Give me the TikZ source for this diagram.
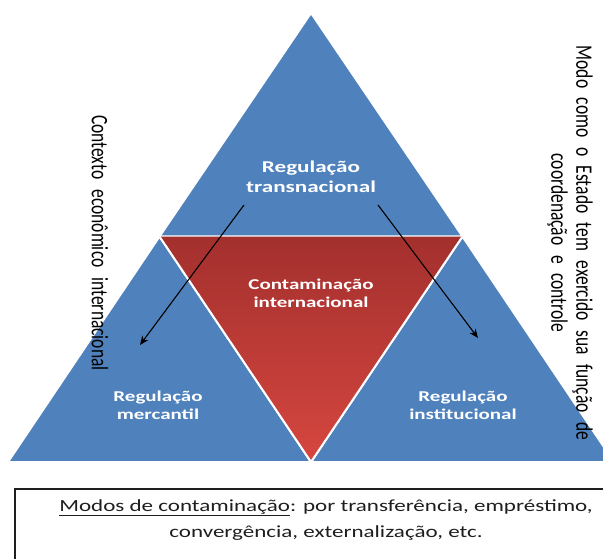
\documentclass[tikz,border=0pt]{standalone}
\usepackage{graphicx}
\usepackage{fontspec}
\setmainfont{Carlito}
\usetikzlibrary{arrows.meta}

\definecolor{pyrblue}{HTML}{4F81BD}
\definecolor{redtop}{HTML}{A3302E}
\definecolor{redbot}{HTML}{D6463F}
\definecolor{inkgray}{HTML}{1E1E1E}

% horizontally widened text and vertically widened (for rotated labels)
\newcommand{\wide}[1]{\scalebox{1.4}[1]{#1}}
\newcommand{\notewide}[1]{\scalebox{1.355}[1]{#1}}
\newcommand{\tall}[1]{\scalebox{1}[1.35]{#1}}
% wide word gap used in the side captions
\newcommand{\gap}{\hspace{9.5pt}}

\tikzset{
  tri/.style={fill=pyrblue, draw=white, line width=2pt, line join=miter},
  whitelabel/.style={text=white, align=center, inner sep=0pt,
    font=\bfseries\fontsize{15}{18}\selectfont},
  sidelabel/.style={text=black, align=center, inner sep=0pt, rotate=-90,
    font=\fontsize{17.5}{24}\selectfont},
  flowarrow/.style={draw=black, line width=1.1pt, -{Stealth[length=9pt,width=7.5pt]}},
  notebox/.style={draw=inkgray, line width=1.4pt},
}

\begin{document}
\begin{tikzpicture}[x=1pt, y=-1pt]
  \useasboundingbox (0,0) rectangle (603,559);
  \clip (0,0) rectangle (603,559);

  % corner points of the pyramid
  \coordinate (apex) at (311,13);
  \coordinate (bl) at (8,462);
  \coordinate (br) at (614,462);
  \coordinate (ml) at (159.5,236.5);
  \coordinate (mr) at (462.5,236.5);
  \coordinate (mb) at (311,462);

  % three blue triangles
  \path[tri] (apex) -- (ml) -- (mr) -- cycle;
  \path[tri] (ml) -- (bl) -- (mb) -- cycle;
  \path[tri] (mr) -- (mb) -- (br) -- cycle;

  % inverted red triangle in the middle
  \shade[top color=redtop, bottom color=redbot] (ml) -- (mr) -- (mb) -- cycle;
  \draw[white, line width=2pt, line join=miter] (ml) -- (mb) -- (mr);
  \draw[white, opacity=0.45, line width=1pt] (ml) -- (mr);

  % labels inside the triangles
  \node[whitelabel, font=\bfseries\fontsize{16.5}{20}\selectfont] (trans) at (311,177)
    {\wide{Regulação}\\\wide{transnacional}};
  \node[whitelabel] (contam) at (311,293)
    {\wide{Contaminação}\\\wide{internacional}};
  \node[whitelabel] (merc) at (158,405)
    {\wide{Regulação}\\\wide{mercantil}};
  \node[whitelabel] (inst) at (463,405)
    {\wide{Regulação}\\\wide{institucional}};

  % arrows leaving the top label
  \coordinate (lstart) at (244,205);
  \coordinate (lend) at (140,345);
  \coordinate (rstart) at (378,205);
  \coordinate (rend) at (478,338);
  \draw[flowarrow] (lstart) -- (lend);
  \draw[flowarrow] (rstart) -- (rend);

  % side captions
  \node[sidelabel] (context) at (100,243)
    {\tall{Contexto\hspace{10pt}econômico\hspace{10pt}internacional}};
  \node[sidelabel, font=\fontsize{17.5}{25}\selectfont] (state) at (570,243)
    {\tall{Modo\gap como\gap o\gap Estado\gap tem\gap exercido\gap sua\gap função\gap de}\\
     \tall{coordenação\gap e\gap controle}};

  % note box at the bottom
  \draw[notebox] (15,489) rectangle (640,600);
  \node[text=inkgray, align=center, inner sep=0pt,
        font=\fontsize{17}{26}\selectfont] (modes) at (326,520)
    {\notewide{\underline{Modos de contaminação}: por transferência, empréstimo,}\\
     \notewide{convergência, externalização, etc.}};
\end{tikzpicture}
\end{document}
